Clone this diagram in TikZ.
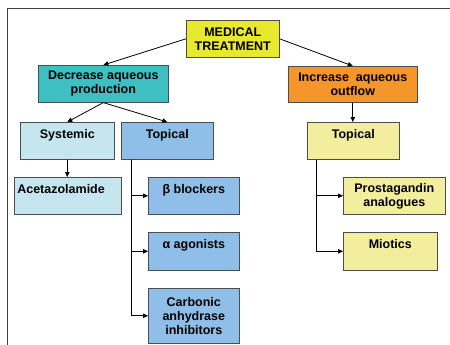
\documentclass[tikz,border=0pt]{standalone}
\usepackage{fontspec}
\setmainfont{Liberation Sans}
\usetikzlibrary{arrows.meta}
\definecolor{medyel}{HTML}{E8E82E}
\definecolor{decteal}{HTML}{3EBFC1}
\definecolor{incorange}{HTML}{F5952A}
\definecolor{sysblue}{HTML}{C6E6EF}
\definecolor{topblue}{HTML}{8FBFE8}
\definecolor{topyel}{HTML}{F3EE9E}
\begin{document}
\begin{tikzpicture}[x=1pt, y=-1pt]
  \tikzset{box/.style={draw=black!70, line width=0.6pt, anchor=north west, align=center, inner sep=3pt,
                       font=\bfseries\fontsize{12.5}{14}\selectfont},
           tbox/.style 2 args={box, minimum width=#1, text height=13pt, text depth=#2},
           cbox/.style 2 args={box, minimum width=#1, minimum height=#2},
           arr/.style={-{Triangle[length=5pt,width=4.5pt]}, line width=0.8pt, black}}
  \useasboundingbox (0,0) rectangle (450,345);
  \draw[black!75, line width=1.5pt] (7.5,345) -- (7.5,8.5) -- (450,8.5);

  \node[cbox={93pt}{37pt}, fill=medyel] (med) at (186,20) {MEDICAL\\TREATMENT};
  \node[cbox={130pt}{37pt}, fill=decteal] (dec) at (38,65) {Decrease aqueous\\production};
  \node[cbox={129pt}{36pt}, fill=incorange] (inc) at (288,66) {Increase~ aqueous\\outflow};

  \node[tbox={94pt}{18pt}, fill=sysblue] (sys) at (20,122) {Systemic};
  \node[tbox={92pt}{18pt}, fill=topblue] (topl) at (121,122) {Topical};
  \node[tbox={92pt}{18pt}, fill=topyel] (topr) at (307,122) {Topical};

  \node[box, text width=101pt, align=left, text height=13pt, text depth=18pt,
        fill=sysblue] (acet) at (14,177) {Acetazolamide};
  \node[tbox={91pt}{18pt}, fill=topblue] (beta) at (148,177) {β blockers};
  \node[tbox={91pt}{19pt}, fill=topblue] (alpha) at (148,232) {α agonists};
  \node[cbox={91pt}{55pt}, fill=topblue] (carb) at (148,288) {Carbonic\\anhydrase\\inhibitors};
  \node[cbox={102pt}{37pt}, fill=topyel] (prost) at (343,177) {Prostagandin\\analogues};
  \node[tbox={94pt}{19pt}, fill=topyel] (miot) at (343,232) {Miotics};

  \coordinate (tl) at ([xshift=10pt]topl.south west);
  \coordinate (tr) at ([xshift=9pt]topr.south west);

  \draw[arr] (med.west) -- (dec.north);
  \draw[arr] (med.east) -- (inc.north);
  \draw[arr] (dec.south) -- (sys.north);
  \draw[arr] (dec.south) -- (topl.north);
  \draw[arr] (inc.south) -- (inc.south |- topr.north);
  \draw[arr] (sys.south) -- (sys.south |- acet.north);
  \draw[arr] (tl) |- (beta.west);
  \draw[arr] (tl) |- (alpha.west);
  \draw[arr] (tl) |- (carb.west);
  \draw[arr] (tr) |- (prost.west);
  \draw[arr] (tr) |- (miot.west);
\end{tikzpicture}
\end{document}
